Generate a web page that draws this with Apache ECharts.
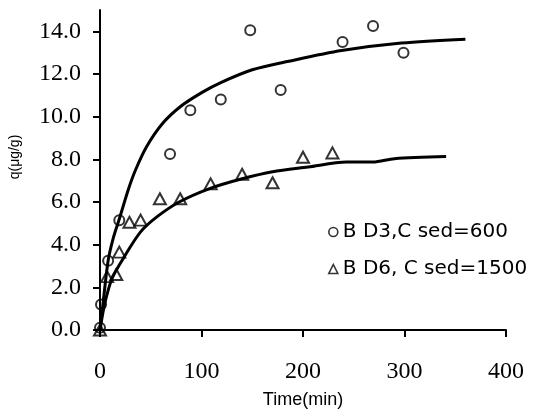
<!DOCTYPE html>
<html>
<head>
<meta charset="utf-8">
<script src="https://cdn.jsdelivr.net/npm/echarts@6/dist/echarts.min.js"></script>
<style>html,body{margin:0;padding:0;background:#fff}#c{width:536px;height:414px}</style>
</head>
<body>
<div id="c"></div>
<script>
// Observed data: time (min), q (µg/g)
const bd3Name = 'B D3,C sed=600';
const bd6Name = 'B D6, C sed=1500';
const bd3Obs = [[0,0.1],[1,1.2],[8,3.25],[19,5.15],[69,8.25],[89,10.3],[119,10.8],[148,14.05],[178,11.25],[239,13.5],[269,14.25],[299,13.0]];
const bd6Obs = [[0,0],[7,2.5],[16,2.6],[19,3.65],[29,5.05],[40,5.15],[59,6.15],[79,6.15],[109,6.85],[140,7.3],[170,6.9],[200,8.1],[229,8.3]];
// Fitted curves
const bd3Fit = [[0,0],[3,1.25],[8,3.25],[13,4.3],[19,5.2],[28,6.6],[35,7.5],[46,8.6],[62,9.7],[80,10.5],[101,11.15],[119,11.6],[150,12.2],[186,12.6],[238,13.1],[297,13.45],[360,13.63]];
const bd6Fit = [[0,0],[3,0.85],[6,1.5],[12,2.43],[24,3.44],[40,4.6],[56,5.3],[78,6.0],[108,6.63],[140,7.09],[170,7.42],[205,7.64],[243,7.87],[269,7.87],[290,8.03],[341,8.13]];
const yTicks = [0,2,4,6,8,10,12,14];
const xTicks = [0,100,200,300,400];

const chart = echarts.init(document.getElementById('c'), null, {renderer:'canvas'});
const markerStyle = {color:'rgba(0,0,0,0)', borderColor:'#000', borderWidth:2};
chart.setOption({
  animation:false,
  backgroundColor:'#fff',
  grid:{left:96, right:30, top:10, bottom:82, containLabel:false},
  legend:{
    orient:'vertical', left:328, top:222, padding:0,
    itemWidth:9, itemHeight:9, itemGap:17,
    textStyle:{fontFamily:'DejaVu Sans', fontSize:20, lineHeight:20, color:'#000'},
    data:[
      {name:bd3Name, icon:'circle', itemStyle:{color:'rgba(0,0,0,0)', borderColor:'#000', borderWidth:1.6}},
      {name:bd6Name, icon:'triangle', itemStyle:{color:'rgba(0,0,0,0)', borderColor:'#000', borderWidth:1.6}}
    ]
  },
  xAxis:{
    type:'value', min:0, max:400, interval:100,
    name:'Time(min)', nameLocation:'middle', nameGap:61,
    nameTextStyle:{fontFamily:'Liberation Sans', fontSize:18, color:'#000'},
    axisLine:{show:true, lineStyle:{color:'#000', width:2}},
    axisTick:{show:true, length:7, lineStyle:{color:'#000', width:2}, customValues:xTicks},
    axisLabel:{margin:30, fontFamily:'Liberation Serif', fontSize:24, color:'#000', customValues:xTicks},
    splitLine:{show:false}
  },
  yAxis:{
    type:'value', min:0, max:15,
    name:'q(μg/g)', nameLocation:'middle', nameGap:78,
    nameTextStyle:{fontFamily:'Liberation Sans', fontSize:14, color:'#000', padding:[0,0,0,26]},
    axisLine:{show:true, onZero:false, lineStyle:{color:'#000', width:2}},
    axisTick:{show:true, length:7, lineStyle:{color:'#000', width:2}, customValues:yTicks},
    axisLabel:{margin:19, fontFamily:'Liberation Serif', fontSize:24, color:'#000', customValues:yTicks,
      formatter:(v)=>Number(v).toFixed(1)},
    splitLine:{show:false}
  },
  series:[
    {name:'BD3 fit', type:'line', data:bd3Fit, showSymbol:false, smooth:0.3, lineStyle:{color:'#000', width:3}, z:2},
    {name:'BD6 fit', type:'line', data:bd6Fit, showSymbol:false, smooth:0.3, lineStyle:{color:'#000', width:3}, z:2},
    {name:bd3Name, type:'scatter', data:bd3Obs, symbol:'circle', symbolSize:10, itemStyle:markerStyle, z:3},
    {name:bd6Name, type:'scatter', data:bd6Obs, symbol:'triangle', symbolSize:[12,11], itemStyle:markerStyle, z:3}
  ]
});
</script>
</body>
</html>
